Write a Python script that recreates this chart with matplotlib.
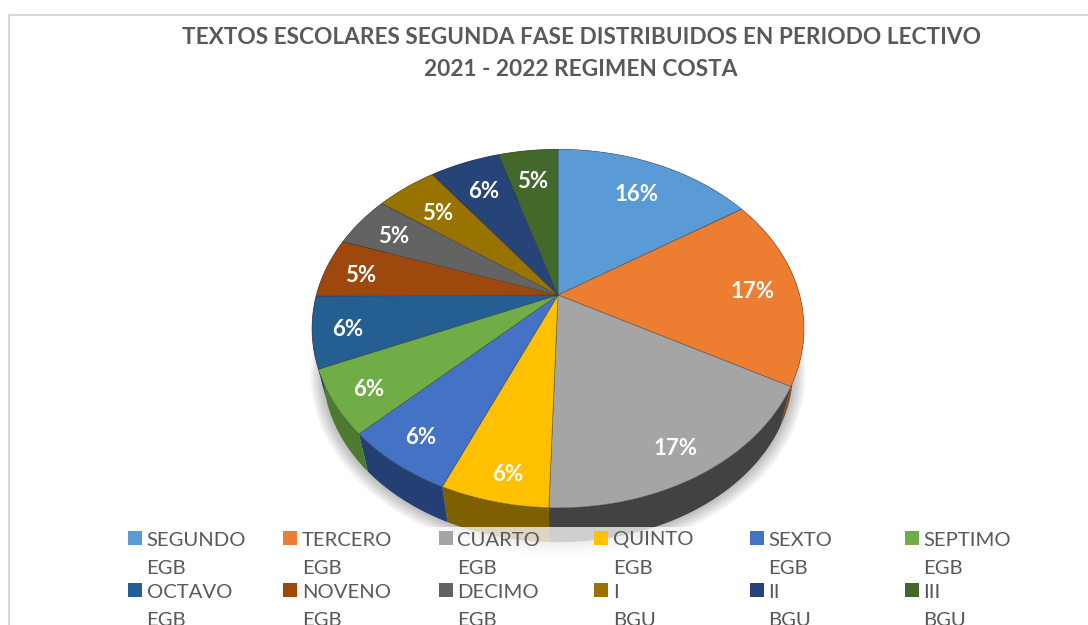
import numpy as np
import matplotlib
matplotlib.use("Agg")
import matplotlib.pyplot as plt
from matplotlib.patches import Rectangle
from matplotlib.transforms import Transform, Affine2D

title_lines = ["TEXTOS ESCOLARES SEGUNDA FASE DISTRIBUIDOS EN PERIODO LECTIVO", "2021 - 2022 REGIMEN COSTA"]
grades = ["SEGUNDO", "TERCERO", "CUARTO", "QUINTO", "SEXTO", "SEPTIMO", "OCTAVO", "NOVENO", "DECIMO", "I", "II", "III"]
levels = ["EGB", "EGB", "EGB", "EGB", "EGB", "EGB", "EGB", "EGB", "EGB", "BGU", "BGU", "BGU"]
shares = [15.8, 17.2, 17.49, 6.0, 6.21, 5.8, 6.4, 5.4, 4.7, 4.8, 5.5, 4.7]
colors = ["#5B9BD5", "#ED7D31", "#A5A5A5", "#FFC000", "#4472C4", "#70AD47",
          "#255E91", "#9E480E", "#636363", "#997300", "#264478", "#43682B"]
wall_colors = ["#2f5f8c", "#8a4a1c", "#424242", "#7f6000", "#233f73", "#4d7a31",
               "#173d5f", "#5f2b08", "#3b3b3b", "#5c4500", "#16294a", "#28401a"]

# pixel nudges for the percent labels, the excel ones do not sit on one radius
label_nudges = [(-5, 9), (-2, 2), (4, 11), (0, 17), (-9, 9), (-9, 8),
                (-10, 4), (-7, 3), (0, 3), (7, 8), (4, 8), (0, 8)]

plt.rcParams['font.family'] = ['Lato', 'DejaVu Sans']


# pie circle seen in perspective, the far half looks smaller than the near half
class Tilt(Transform):
    input_dims = 2
    output_dims = 2
    has_inverse = False

    def transform_non_affine(self, values):
        out = values.copy()
        w = 1 + 0.187 * values[:, 1]
        out[:, 0] = 558 + 241.7 * values[:, 0] / w
        out[:, 1] = 295 - 173 * values[:, 1] / w
        return out


fig = plt.figure(figsize=(10.88, 6.25), dpi=100)
ax = fig.add_axes([0, 0, 1, 1])

tilt = Tilt()
# lower rim of the disc, a little smaller and further down
drop = Affine2D().translate(-558, -295).scale(0.955).translate(558, 339)
top = tilt + ax.transData
rim = tilt + drop + ax.transData

# soft shadow under the disc
for r in [1.05, 1.04, 1.03, 1.02, 1.01]:
    shadow, _ = ax.pie([1], radius=r, colors=["#000000"], wedgeprops={"alpha": 0.05, "linewidth": 0})
    shadow[0].set_transform(rim)

# side of the disc, each piece runs between the upper and the lower rim
edges = np.cumsum([0] + shares) / sum(shares) * 2 * np.pi
wall_pieces = []
for i in range(len(shares)):
    angle = np.linspace(edges[i], edges[i + 1], 60)
    circle = np.column_stack([np.sin(angle), np.cos(angle)])
    upper = tilt.transform(circle)
    lower = drop.transform(upper)
    wall_pieces.append(np.vstack([upper, lower[::-1]]))

wedges, _, pcts = ax.pie(shares, startangle=90, counterclock=False, colors=colors, autopct="%.0f%%",
                         pctdistance=0.82, wedgeprops={"linewidth": 0.5, "edgecolor": "#33333388", "zorder": 2},
                         textprops={"color": "white", "fontweight": "bold", "fontsize": 16})
for w in wedges:
    w.set_transform(top)
for t, (dx, dy) in zip(pcts, label_nudges):
    t.set_transform(tilt + Affine2D().translate(dx, dy) + ax.transData)
    t.set_zorder(5)

ax.set_aspect("auto")
ax.set_xlim(0, 1088)
ax.set_ylim(625, 0)
ax.axis("off")

for piece, color in zip(wall_pieces, wall_colors):
    ax.fill(piece[:, 0], piece[:, 1], color=color, linewidth=0, zorder=1.5)

# chart frame, only top and left fall inside the crop
ax.plot([9, 9, 1088], [625, 15, 15], color="#d9d9d9", lw=1.5, zorder=1)

for i, line in enumerate(title_lines):
    ax.text(581, 37 + i * 32.5, line, ha="center", va="center", fontsize=16.25, fontweight="bold", color="#595959")

# legend sits on a see through white box, over the bottom of the pie
ax.add_patch(Rectangle((120, 527), 900, 98, facecolor="white", alpha=0.75, linewidth=0, zorder=3))
for i, (grade, level) in enumerate(zip(grades, levels)):
    col = i % 6
    row = i // 6
    x = 128 + col * 155.4
    y = 538 + row * 52
    ax.add_patch(Rectangle((x, y - 7), 14, 14, facecolor=colors[i], linewidth=0, zorder=4))
    ax.text(x + 18.5, y + 2, grade, ha="left", va="center", fontsize=14.6, color="#595959", zorder=5)
    ax.text(x + 18.5, y + 31, level, ha="left", va="center", fontsize=14.6, color="#595959", zorder=5)

ax.set_xlim(0, 1088)
ax.set_ylim(625, 0)
fig.savefig("out.png", dpi=100)
